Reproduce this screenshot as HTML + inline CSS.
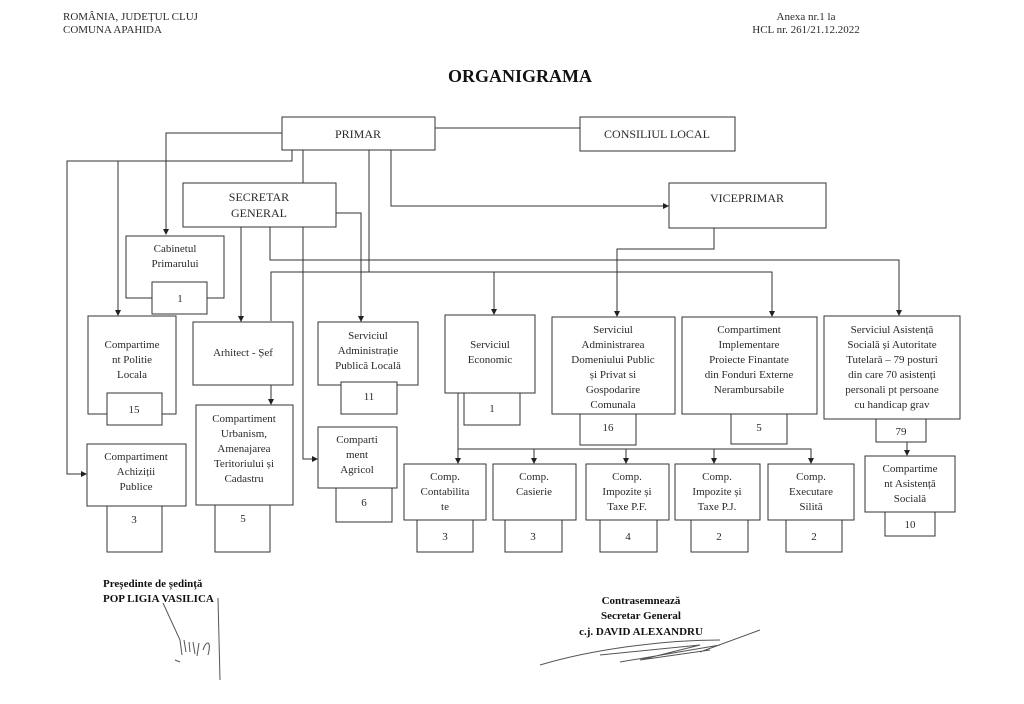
<!DOCTYPE html>
<html><head><meta charset="utf-8"><style>
html,body{margin:0;padding:0;background:#fff;}
svg{display:block;}
text{font-family:"Liberation Serif",serif;fill:#2a2a2a;}
</style></head><body>
<svg width="1024" height="704" viewBox="0 0 1024 704" xmlns="http://www.w3.org/2000/svg">
<defs><marker id="a" markerWidth="6" markerHeight="6" refX="5" refY="3" orient="auto" markerUnits="userSpaceOnUse"><path d="M0,0 L6,3 L0,6 z" fill="#222"/></marker></defs>
<g font-size="11">
<text x="63" y="20">ROMÂNIA, JUDEȚUL CLUJ</text>
<text x="63" y="33">COMUNA APAHIDA</text>
<text x="806" y="20" text-anchor="middle">Anexa nr.1 la</text>
<text x="806" y="33" text-anchor="middle">HCL nr. 261/21.12.2022</text>
</g>
<text x="520" y="82" text-anchor="middle" font-size="18" font-weight="bold" style="fill:#111">ORGANIGRAMA</text>

<g stroke="#333" stroke-width="1" fill="none">
<!-- connectors -->
<path d="M435,128 H580"/>
<path d="M282,133 H166 V234" marker-end="url(#a)"/>
<path d="M292,150 V161 H67 V474 H86" marker-end="url(#a)"/>
<path d="M118,161 V315" marker-end="url(#a)"/>
<path d="M303,150 V459 H317" marker-end="url(#a)"/>
<path d="M369,150 V272"/>
<path d="M391,150 V206 H668" marker-end="url(#a)"/>
<path d="M241,227 V321" marker-end="url(#a)"/>
<path d="M270,227 V260 H899 V315" marker-end="url(#a)"/>
<path d="M271,321 V272 H772 V316" marker-end="url(#a)"/>
<path d="M494,272 V314" marker-end="url(#a)"/>
<path d="M336,213 H361 V321" marker-end="url(#a)"/>
<path d="M714,228 V249 H617 V316" marker-end="url(#a)"/>
<path d="M271,385 V404" marker-end="url(#a)"/>
<path d="M458,393 V463" marker-end="url(#a)"/>
<path d="M458,449 H811 V463" marker-end="url(#a)"/>
<path d="M534,449 V463" marker-end="url(#a)"/>
<path d="M626,449 V463" marker-end="url(#a)"/>
<path d="M714,449 V463" marker-end="url(#a)"/>
<path d="M907,442 V455" marker-end="url(#a)"/>
</g>
<g stroke="#333" stroke-width="1" fill="#fff">
<rect x="282" y="117" width="153" height="33"/>
<rect x="580" y="117" width="155" height="34"/>
<rect x="183" y="183" width="153" height="44"/>
<rect x="669" y="183" width="157" height="45"/>
<rect x="126" y="236" width="98" height="62"/>
<rect x="152" y="282" width="55" height="32"/>
<rect x="88" y="316" width="88" height="98"/>
<rect x="107" y="393" width="55" height="32"/>
<rect x="193" y="322" width="100" height="63"/>
<rect x="196" y="405" width="97" height="100"/>
<rect x="215" y="505" width="55" height="47"/>
<rect x="87" y="444" width="99" height="62"/>
<rect x="107" y="506" width="55" height="46"/>
<rect x="318" y="322" width="100" height="63"/>
<rect x="341" y="382" width="56" height="32"/>
<rect x="318" y="427" width="79" height="61"/>
<rect x="336" y="488" width="56" height="34"/>
<rect x="445" y="315" width="90" height="78"/>
<rect x="464" y="393" width="56" height="32"/>
<rect x="552" y="317" width="123" height="97"/>
<rect x="580" y="414" width="56" height="31"/>
<rect x="682" y="317" width="135" height="97"/>
<rect x="731" y="414" width="56" height="30"/>
<rect x="824" y="316" width="136" height="103"/>
<rect x="876" y="419" width="50" height="23"/>
<rect x="865" y="456" width="90" height="56"/>
<rect x="885" y="512" width="50" height="24"/>
<rect x="404" y="464" width="82" height="56"/>
<rect x="417" y="520" width="56" height="32"/>
<rect x="493" y="464" width="83" height="56"/>
<rect x="505" y="520" width="57" height="32"/>
<rect x="586" y="464" width="83" height="56"/>
<rect x="600" y="520" width="57" height="32"/>
<rect x="675" y="464" width="85" height="56"/>
<rect x="691" y="520" width="57" height="32"/>
<rect x="768" y="464" width="86" height="56"/>
<rect x="786" y="520" width="56" height="32"/>
</g>
<g font-size="12" text-anchor="middle">
<text x="358" y="138">PRIMAR</text>
<text x="657" y="138">CONSILIUL LOCAL</text>
<text x="259" y="201">SECRETAR</text>
<text x="259" y="217">GENERAL</text>
<text x="747" y="202">VICEPRIMAR</text>
</g>
<g font-size="11" text-anchor="middle">
<text x="175" y="252">Cabinetul</text><text x="175" y="267">Primarului</text>
<text x="180" y="302">1</text>
<text x="132" y="348">Compartime</text><text x="132" y="363">nt Politie</text><text x="132" y="378">Locala</text>
<text x="134" y="413">15</text>
<text x="243" y="356">Arhitect - Șef</text>
<text x="244" y="422">Compartiment</text><text x="244" y="437">Urbanism,</text><text x="244" y="452">Amenajarea</text><text x="244" y="467">Teritoriului și</text><text x="244" y="482">Cadastru</text>
<text x="243" y="522">5</text>
<text x="136" y="460">Compartiment</text><text x="136" y="475">Achiziții</text><text x="136" y="490">Publice</text>
<text x="134" y="523">3</text>
<text x="368" y="339">Serviciul</text><text x="368" y="354">Administrație</text><text x="368" y="369">Publică Locală</text>
<text x="369" y="400">11</text>
<text x="357" y="443">Comparti</text><text x="357" y="458">ment</text><text x="357" y="473">Agricol</text>
<text x="364" y="506">6</text>
<text x="490" y="348">Serviciul</text><text x="490" y="363">Economic</text>
<text x="492" y="412">1</text>
<text x="613" y="333">Serviciul</text><text x="613" y="348">Administrarea</text><text x="613" y="363">Domeniului Public</text><text x="613" y="378">și Privat si</text><text x="613" y="393">Gospodarire</text><text x="613" y="408">Comunala</text>
<text x="608" y="431">16</text>
<text x="749" y="333">Compartiment</text><text x="749" y="348">Implementare</text><text x="749" y="363">Proiecte Finantate</text><text x="749" y="378">din Fonduri Externe</text><text x="749" y="393">Nerambursabile</text>
<text x="759" y="431">5</text>
<text x="892" y="333">Serviciul Asistență</text><text x="892" y="348">Socială și Autoritate</text><text x="892" y="363">Tutelară – 79 posturi</text><text x="892" y="378">din care 70 asistenți</text><text x="892" y="393">personali pt persoane</text><text x="892" y="408">cu handicap grav</text>
<text x="901" y="435">79</text>
<text x="910" y="472">Compartime</text><text x="910" y="487">nt Asistență</text><text x="910" y="502">Socială</text>
<text x="910" y="528">10</text>
<text x="445" y="480">Comp.</text><text x="445" y="495">Contabilita</text><text x="445" y="510">te</text>
<text x="445" y="540">3</text>
<text x="534" y="480">Comp.</text><text x="534" y="495">Casierie</text>
<text x="533" y="540">3</text>
<text x="627" y="480">Comp.</text><text x="627" y="495">Impozite și</text><text x="627" y="510">Taxe P.F.</text>
<text x="628" y="540">4</text>
<text x="717" y="480">Comp.</text><text x="717" y="495">Impozite și</text><text x="717" y="510">Taxe P.J.</text>
<text x="719" y="540">2</text>
<text x="811" y="480">Comp.</text><text x="811" y="495">Executare</text><text x="811" y="510">Silită</text>
<text x="814" y="540">2</text>
</g>
<g font-size="11" font-weight="bold">
<text x="103" y="587" style="fill:#111">Președinte de ședință</text>
<text x="103" y="602" style="fill:#111">POP LIGIA VASILICA</text>
<text x="641" y="604" text-anchor="middle" style="fill:#111">Contrasemnează</text>
<text x="641" y="619" text-anchor="middle" style="fill:#111">Secretar General</text>
<text x="641" y="635" text-anchor="middle" style="fill:#111">c.j. DAVID ALEXANDRU</text>
</g>
<g stroke="#555" stroke-width="1" fill="none">
<path d="M163,603 L180,640 L182,655 M184,640 L186,652 M189,642 L190,652 M193,642 L195,654 M199,643 L197,656 M205,645 L203,650 C206,640 212,640 208,655"/>
<path d="M218,598 L220,680 M175,660 L180,662"/>
<path d="M540,665 C590,650 660,640 720,640 M600,655 L700,645 L640,660 L710,650 M620,662 L720,645 M700,652 L760,630"/>
</g>
</svg>
</body></html>
